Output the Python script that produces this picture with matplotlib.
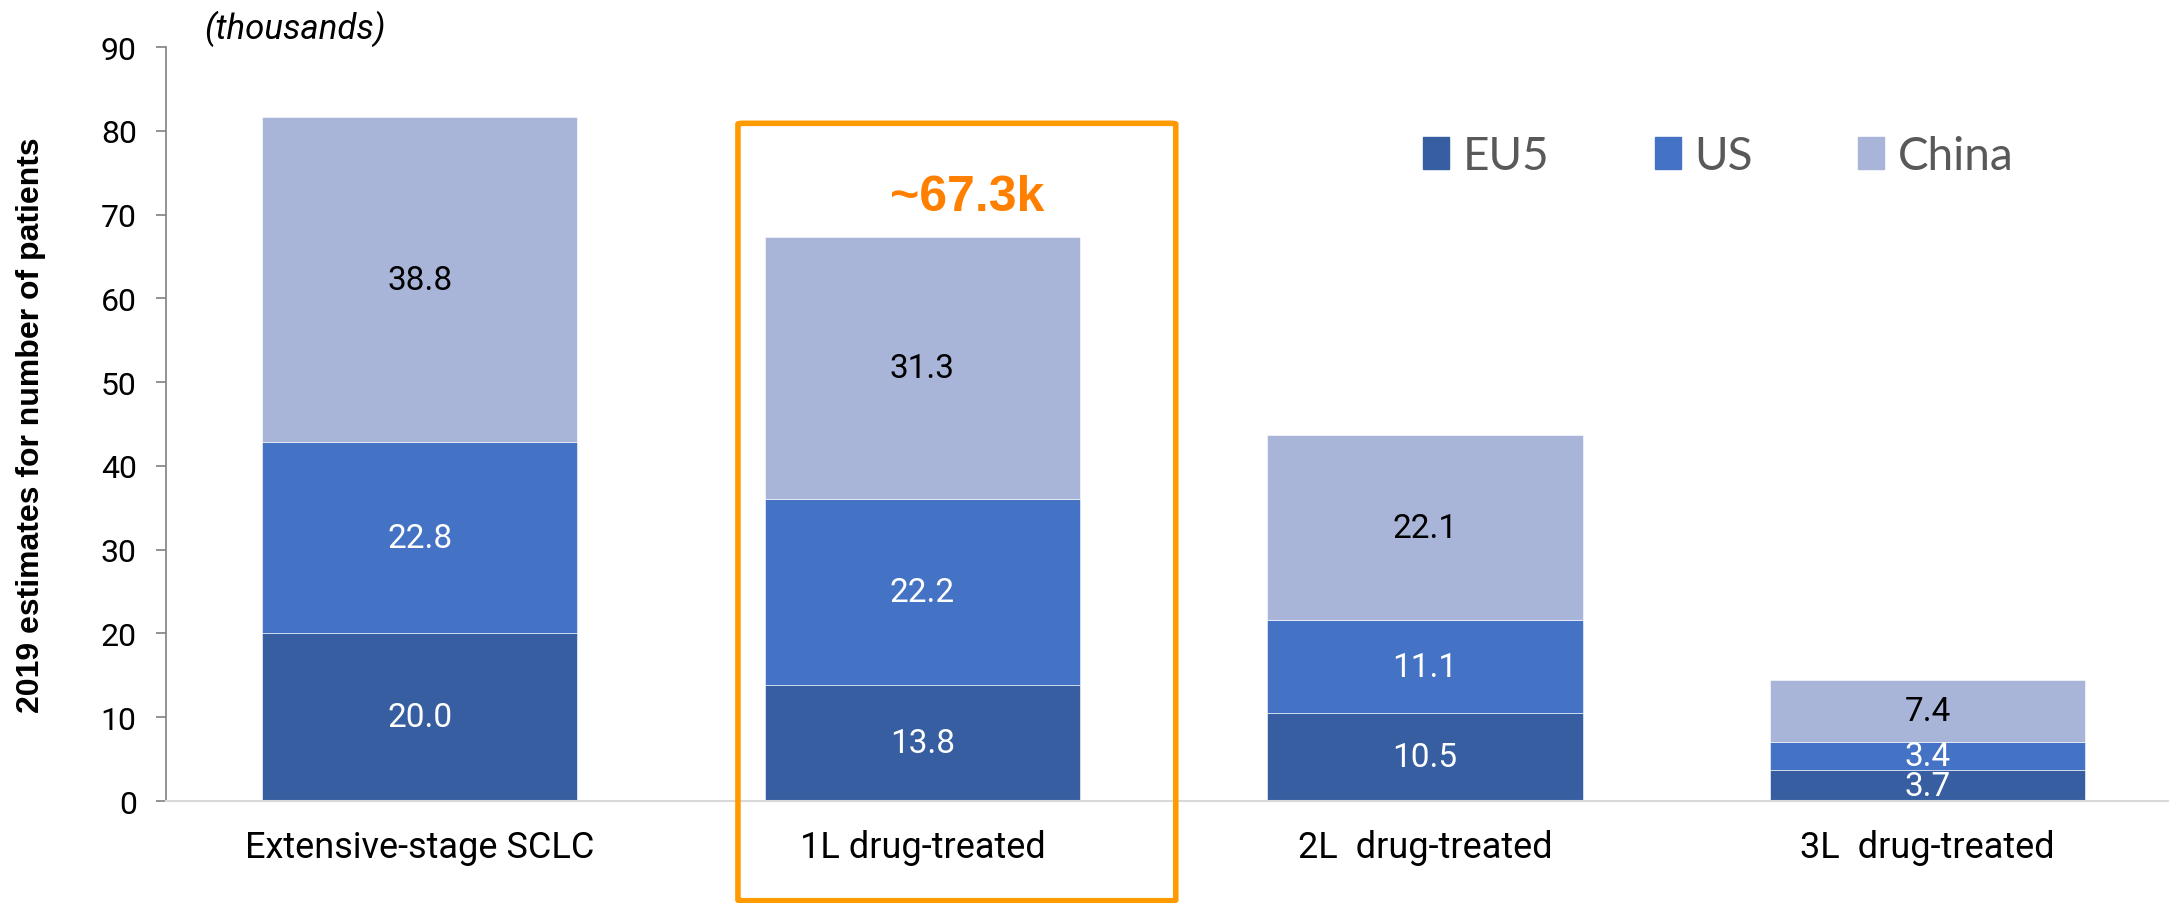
import numpy as np
import matplotlib
matplotlib.use('Agg')
import matplotlib.pyplot as plt
from matplotlib.patches import Patch, FancyBboxPatch

# données (milliers de patients, estimations 2019)
categories = ["Extensive-stage SCLC", "1L drug-treated", "2L  drug-treated", "3L  drug-treated"]
eu5 = [20.0, 13.8, 10.5, 3.7]
us = [22.8, 22.2, 11.1, 3.4]
china = [38.8, 31.3, 22.1, 7.4]
series_names = ["EU5", "US", "China"]
highlight_label = "~67.3k"
highlight_idx = 1

col_eu5 = "#365EA1"
col_us = "#4472C4"
col_china = "#A8B4D8"
orange_box = "#FF9A00"
orange_txt = "#FF8000"

plt.rcParams['font.family'] = ['Roboto', 'DejaVu Sans']

fig = plt.figure(figsize=(21.69, 9.04), dpi=100)
ax = fig.add_axes([0.0765, 0.1128, 0.9235, 0.834])

x = np.arange(len(categories))
w = 0.627
ax.bar(x, eu5, w, color=col_eu5, edgecolor="white", linewidth=0.4)
ax.bar(x, us, w, bottom=eu5, color=col_us, edgecolor="white", linewidth=0.4)
bottom_china = np.array(eu5) + np.array(us)
ax.bar(x, china, w, bottom=bottom_china, color=col_china, edgecolor="white", linewidth=0.4)

# étiquettes de valeurs
for i in range(len(categories)):
    ax.text(x[i], eu5[i] / 2, f"{eu5[i]:.1f}", ha="center", va="center", color="white", fontsize=24)
    ax.text(x[i], eu5[i] + us[i] / 2, f"{us[i]:.1f}", ha="center", va="center", color="white", fontsize=24)
    ax.text(x[i], bottom_china[i] + china[i] / 2, f"{china[i]:.1f}", ha="center", va="center",
            color="black", fontsize=24)

total = bottom_china[highlight_idx] + china[highlight_idx]
ax.text(x[highlight_idx] + 0.09, total + 4.8, highlight_label, ha="center", va="center",
        color=orange_txt, fontsize=36, fontweight="bold", family=["Liberation Sans", "DejaVu Sans"])

# cadre orange autour de la 2e barre
box = FancyBboxPatch((x[highlight_idx] - 0.367, -11.9), 0.871, 92.8,
                     boxstyle="round,pad=0,rounding_size=0.01", fill=False,
                     edgecolor=orange_box, linewidth=4, clip_on=False, zorder=5,
                     mutation_aspect=10)
ax.add_patch(box)

ax.set_xlim(-0.505, 3.48)
ax.set_ylim(0, 90)
ax.set_yticks(np.arange(0, 91, 10))
ax.set_xticks(x)
ax.set_xticklabels(categories, fontsize=26)
ax.tick_params(axis="x", length=0, pad=20)
ax.tick_params(axis="y", labelsize=23, length=7, width=1.2, color="#808080", pad=14)

for s in ["top", "right"]:
    ax.spines[s].set_visible(False)
ax.spines["left"].set_color("#808080")
ax.spines["left"].set_linewidth(1.2)
ax.spines["bottom"].set_color("#D9D9D9")
ax.spines["bottom"].set_linewidth(1.5)

ax.set_ylabel("2019 estimates for number of patients", fontsize=23, fontweight="bold",
              family=["Liberation Sans", "DejaVu Sans"])
ax.yaxis.set_label_coords(-0.06, 0.5)

ax.text(0.019, 1.025, "(thousands)", transform=ax.transAxes, fontsize=25, style="italic",
        ha="left", va="center")

handles = [Patch(color=c) for c in [col_eu5, col_us, col_china]]
ax.legend(handles, series_names, loc="center", bbox_to_anchor=(0.775, 0.856), ncol=3,
          frameon=False, handlelength=0.56, handleheight=0.7,
          handletextpad=0.3, columnspacing=2.3, labelcolor="#595959",
          prop={"family": ["Lato", "DejaVu Sans"], "size": 33})

fig.savefig("out.png", dpi=100)
